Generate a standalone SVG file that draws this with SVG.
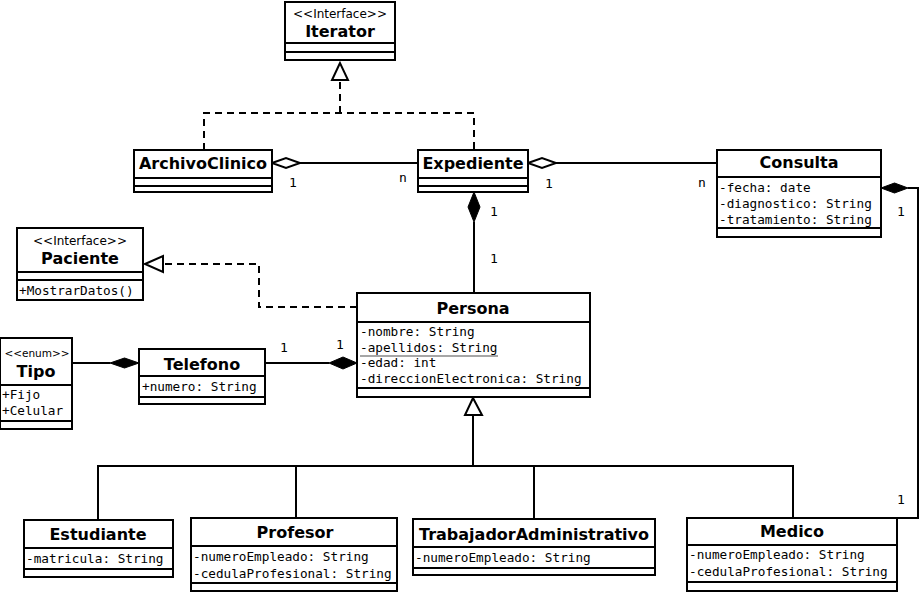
<svg xmlns="http://www.w3.org/2000/svg" width="921" height="594" viewBox="0 0 921 594">
<style>
.box{fill:#fff;stroke:#000;stroke-width:2}
.sep{stroke:#000;stroke-width:2}
.t{font-family:"DejaVu Sans",sans-serif;font-weight:bold;font-size:16px;text-anchor:middle;fill:#000}
.st{font-family:"DejaVu Sans",sans-serif;font-size:12px;text-anchor:middle;fill:#000}
.a{font-family:"DejaVu Sans Mono",monospace;font-size:12.7px;fill:#000}
.lbl{font-family:"DejaVu Sans Mono",monospace;font-size:13px;fill:#000}
.ln{stroke:#000;stroke-width:2;fill:none}
.dash{stroke-dasharray:7 5}
.hol{fill:#fff;stroke:#000;stroke-width:2}
.fil{fill:#000;stroke:#000;stroke-width:1}
</style>
<rect width="921" height="594" fill="#fff"/>
<g id="connectors">
  <polyline class="ln dash" points="204,150 204,113 474,113 474,150"/>
  <line class="ln dash" x1="340" y1="113" x2="340" y2="80"/>
  <polygon class="hol" points="340,63 332,80 348,80"/>
  <line class="ln" x1="300" y1="163" x2="418" y2="163"/>
  <polygon class="hol" points="272,163 286,158 300,163 286,168"/>
  <line class="ln" x1="556" y1="163" x2="717" y2="163"/>
  <polygon class="hol" points="528,163 542,158 556,163 542,168"/>
  <line class="ln" x1="474" y1="222" x2="474" y2="293"/>
  <polygon class="fil" points="474,192 480,207 474,222 468,207"/>
  <polyline class="ln dash" points="357,307 259,307 259,264 163,264"/>
  <polygon class="hol" points="145,264 163,256 163,272"/>
  <line class="ln" x1="72" y1="363" x2="110" y2="363"/>
  <polygon class="fil" points="139,363 124.5,368 110,363 124.5,358"/>
  <line class="ln" x1="266" y1="363" x2="329" y2="363"/>
  <polygon class="fil" points="357,363 343,369 329,363 343,357"/>
  <polyline class="ln" points="908,188 918,188 918,518 897,518"/>
  <polygon class="fil" points="881,188 894.5,183 908,188 894.5,193"/>
  <line class="ln" x1="473" y1="415" x2="473" y2="466"/>
  <polygon class="hol" points="473,398 465,415 482,415"/>
  <polyline class="ln" points="98,520 98,466 793,466 793,518"/>
  <line class="ln" x1="296" y1="466" x2="296" y2="518"/>
  <line class="ln" x1="534" y1="466" x2="534" y2="519"/>
  <text class="lbl" x="289" y="187">1</text>
  <text class="lbl" x="399" y="182">n</text>
  <text class="lbl" x="545" y="188">1</text>
  <text class="lbl" x="698" y="187">n</text>
  <text class="lbl" x="490" y="216">1</text>
  <text class="lbl" x="490" y="263">1</text>
  <text class="lbl" x="280" y="352">1</text>
  <text class="lbl" x="336" y="349">1</text>
  <text class="lbl" x="897" y="216">1</text>
  <text class="lbl" x="897" y="504">1</text>
</g>
<g id="Iterator">
  <rect class="box" x="285" y="2" width="110" height="58"/>
  <line class="sep" x1="285" y1="43" x2="395" y2="43"/>
  <line class="sep" x1="285" y1="52" x2="395" y2="52"/>
  <text class="st" x="340" y="18">&lt;&lt;Interface&gt;&gt;</text>
  <text class="t" x="340" y="37">Iterator</text>
</g>
<g id="ArchivoClinico">
  <rect class="box" x="134" y="150" width="138" height="42"/>
  <line class="sep" x1="134" y1="178" x2="272" y2="178"/>
  <line class="sep" x1="134" y1="186" x2="272" y2="186"/>
  <text class="t" x="203" y="169">ArchivoClinico</text>
</g>
<g id="Expediente">
  <rect class="box" x="418" y="150" width="110" height="42"/>
  <line class="sep" x1="418" y1="178" x2="528" y2="178"/>
  <line class="sep" x1="418" y1="186" x2="528" y2="186"/>
  <text class="t" x="473" y="169">Expediente</text>
</g>
<g id="Consulta">
  <rect class="box" x="717" y="150" width="164" height="87"/>
  <line class="sep" x1="717" y1="177" x2="881" y2="177"/>
  <line class="sep" x1="717" y1="228" x2="881" y2="228"/>
  <text class="t" x="799" y="168">Consulta</text>
  <text class="a" x="719" y="192">-fecha: date</text>
  <text class="a" x="719" y="208">-diagnostico: String</text>
  <text class="a" x="719" y="224">-tratamiento: String</text>
</g>
<g id="Paciente">
  <rect class="box" x="17" y="228" width="126" height="72"/>
  <line class="sep" x1="17" y1="272" x2="143" y2="272"/>
  <line class="sep" x1="17" y1="280" x2="143" y2="280"/>
  <text class="st" x="80" y="245">&lt;&lt;Interface&gt;&gt;</text>
  <text class="t" x="80" y="264">Paciente</text>
  <text class="a" x="19" y="295">+MostrarDatos()</text>
</g>
<g id="Persona">
  <rect class="box" x="357" y="293" width="233" height="104"/>
  <line class="sep" x1="357" y1="322" x2="590" y2="322"/>
  <line class="sep" x1="357" y1="388" x2="590" y2="388"/>
  <text class="t" x="473" y="314">Persona</text>
  <text class="a" x="360" y="336">-nombre: String</text>
  <text class="a" x="360" y="352">-apellidos: String</text>
  <line x1="360" y1="356" x2="498" y2="356" stroke="#888" stroke-width="1.5"/>
  <text class="a" x="360" y="367">-edad: int</text>
  <text class="a" x="360" y="383">-direccionElectronica: String</text>
</g>
<g id="Tipo">
  <rect class="box" x="0" y="338" width="72" height="91"/>
  <line class="sep" x1="0" y1="385" x2="72" y2="385"/>
  <line class="sep" x1="0" y1="421" x2="72" y2="421"/>
  <text class="st" x="37" y="357" style="font-size:10.5px">&lt;&lt;enum&gt;&gt;</text>
  <text class="t" x="36" y="377">Tipo</text>
  <text class="a" x="2" y="399">+Fijo</text>
  <text class="a" x="2" y="415">+Celular</text>
</g>
<g id="Telefono">
  <rect class="box" x="139" y="349" width="126" height="55"/>
  <line class="sep" x1="139" y1="376" x2="265" y2="376"/>
  <line class="sep" x1="139" y1="397" x2="265" y2="397"/>
  <text class="t" x="202" y="370">Telefono</text>
  <text class="a" x="142" y="391">+numero: String</text>
</g>
<g id="Estudiante">
  <rect class="box" x="24" y="520" width="149" height="57"/>
  <line class="sep" x1="24" y1="548" x2="173" y2="548"/>
  <line class="sep" x1="24" y1="569" x2="173" y2="569"/>
  <text class="t" x="98" y="540">Estudiante</text>
  <text class="a" x="26" y="563">-matricula: String</text>
</g>
<g id="Profesor">
  <rect class="box" x="191" y="518" width="206" height="73"/>
  <line class="sep" x1="191" y1="546" x2="397" y2="546"/>
  <line class="sep" x1="191" y1="583" x2="397" y2="583"/>
  <text class="t" x="295" y="538">Profesor</text>
  <text class="a" x="193" y="561">-numeroEmpleado: String</text>
  <text class="a" x="193" y="578">-cedulaProfesional: String</text>
</g>
<g id="TrabajadorAdministrativo">
  <rect class="box" x="413" y="519" width="242" height="56"/>
  <line class="sep" x1="413" y1="547" x2="655" y2="547"/>
  <line class="sep" x1="413" y1="568" x2="655" y2="568"/>
  <text class="t" x="534" y="540">TrabajadorAdministrativo</text>
  <text class="a" x="415" y="562">-numeroEmpleado: String</text>
</g>
<g id="Medico">
  <rect class="box" x="687" y="518" width="210" height="73"/>
  <line class="sep" x1="687" y1="545" x2="897" y2="545"/>
  <line class="sep" x1="687" y1="582" x2="897" y2="582"/>
  <text class="t" x="792" y="537">Medico</text>
  <text class="a" x="689" y="559">-numeroEmpleado: String</text>
  <text class="a" x="689" y="576">-cedulaProfesional: String</text>
</g>
</svg>
